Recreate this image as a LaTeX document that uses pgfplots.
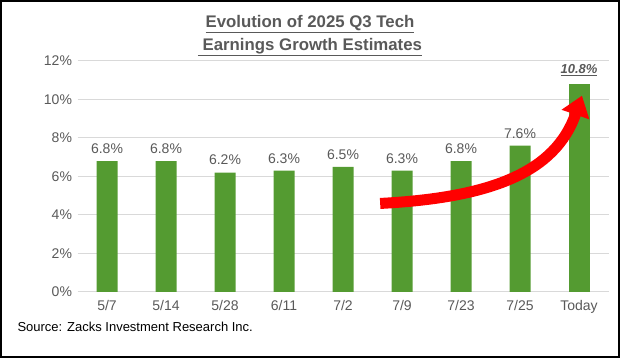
\documentclass[border=0pt]{standalone}
\usepackage{fontspec}
\setmainfont{Liberation Sans}
\usepackage{pgfplots}
\pgfplotsset{compat=1.18}
\usetikzlibrary{arrows.meta}
\definecolor{bargreen}{RGB}{84,155,49}
\definecolor{txtgray}{RGB}{89,89,89}
\definecolor{gridgray}{RGB}{217,217,217}
\begin{document}
\begin{tikzpicture}[x=1pt,y=1pt]
\path[use as bounding box] (0,0) rectangle (620,358);
\draw[line width=2pt] (1,1) rectangle (619,357);
\node[font=\fontsize{16.8}{19}\selectfont\bfseries, text=txtgray, align=center] at (310,334) {\underline{Evolution of 2025 Q3 Tech}};
\node[font=\fontsize{16.8}{19}\selectfont\bfseries, text=txtgray, align=center] at (310,311) {\underline{\ Earnings Growth Estimates}};
\node[anchor=west, font=\fontsize{13}{15}\selectfont] at (14,31) {Source: Zacks Investment Research Inc.};
\begin{axis}[
  at={(77.5pt,66pt)}, anchor=south west,
  scale only axis, width=531pt, height=231pt,
  xmin=-0.5, xmax=8.5, ymin=0, ymax=12,
  ybar, bar width=21pt,
  axis line style={draw=none},
  tick style={draw=none},
  /pgf/number format/assume math mode=true,
  ytick={0,2,4,6,8,10,12},
  yticklabels={0\%,2\%,4\%,6\%,8\%,10\%,12\%},
  xtick={0,1,2,3,4,5,6,7,8},
  xticklabels={5/7,5/14,5/28,6/11,7/2,7/9,7/23,7/25,Today},
  ymajorgrids, grid style={gridgray, line width=1pt},
  tick label style={font=\fontsize{14}{16}\selectfont, text=txtgray},
  yticklabel style={xshift=-2pt},
  xticklabel style={yshift=-1pt},
  clip=false,
]
\addplot[fill=bargreen, draw=none, bar shift=0pt,
  nodes near coords={\pgfmathprintnumber[fixed,fixed zerofill,precision=1,assume math mode=true]{\pgfplotspointmeta}\%},
  nodes near coords style={font=\fontsize{14}{16}\selectfont, text=txtgray, yshift=4pt}]
  coordinates {(0,6.8) (1,6.8) (2,6.2) (3,6.3) (4,6.5) (5,6.3) (6,6.8) (7,7.6)};
\addplot[fill=bargreen, draw=none, bar shift=0pt,
  nodes near coords={\underline{\textbf{\textit{10.8\%}}}},
  nodes near coords style={font=\fontsize{13}{15}\selectfont, text=txtgray, yshift=5pt}]
  coordinates {(8,10.8)};
\draw[red, line width=11pt, -{Triangle[width=28pt,length=20pt]}]
  (axis cs:4.63,4.6) .. controls (axis cs:6.5,4.9) and (axis cs:7.6,6.2) .. (axis cs:8.05,10.2);
\end{axis}
\end{tikzpicture}
\end{document}
